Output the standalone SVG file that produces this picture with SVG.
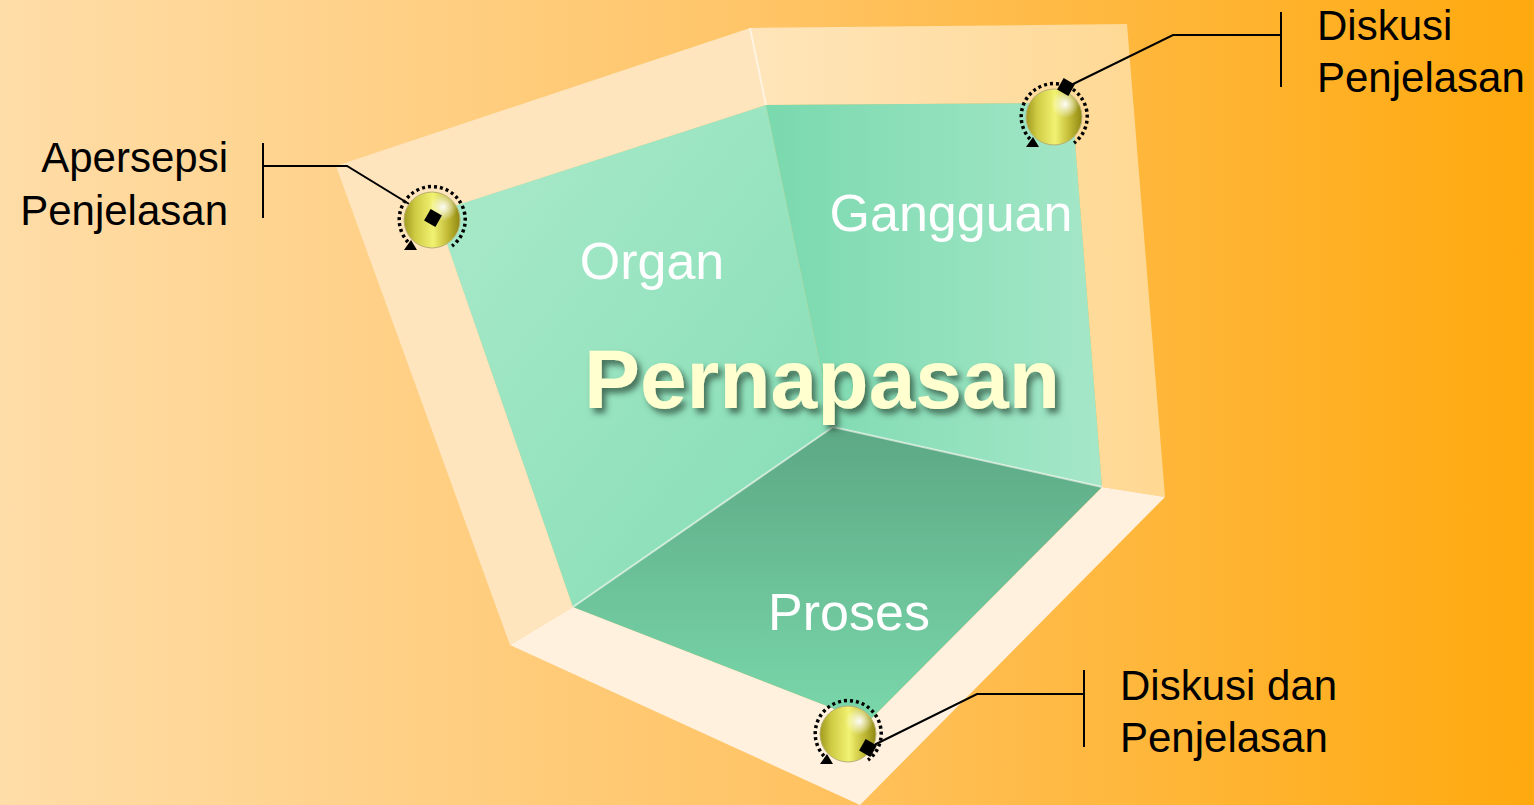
<svg xmlns="http://www.w3.org/2000/svg" width="1534" height="805" viewBox="0 0 1534 805">
  <defs>
    <linearGradient id="bg" x1="0" y1="0" x2="1" y2="0">
      <stop offset="0" stop-color="#FFDDA8"/>
      <stop offset="0.5" stop-color="#FFC466"/>
      <stop offset="1" stop-color="#FFA90E"/>
    </linearGradient>
    <linearGradient id="frameTop" x1="0" y1="0" x2="1" y2="0">
      <stop offset="0" stop-color="#FFE5BA"/>
      <stop offset="1" stop-color="#FFD892"/>
    </linearGradient>
    <linearGradient id="wallLeft" x1="0" y1="0" x2="1" y2="1">
      <stop offset="0" stop-color="#ABEACB"/>
      <stop offset="1" stop-color="#84DDB4"/>
    </linearGradient>
    <linearGradient id="wallRight" x1="0" y1="0" x2="1" y2="0">
      <stop offset="0" stop-color="#7AD9AE"/>
      <stop offset="1" stop-color="#A5E7C8"/>
    </linearGradient>
    <linearGradient id="floor" x1="0" y1="0" x2="0" y2="1">
      <stop offset="0" stop-color="#5CA884"/>
      <stop offset="1" stop-color="#7AD8AB"/>
    </linearGradient>
    <linearGradient id="ballBody" x1="0" y1="0" x2="1" y2="0">
      <stop offset="0" stop-color="#A09A1E"/>
      <stop offset="0.2" stop-color="#CFCB44"/>
      <stop offset="0.52" stop-color="#F2F272"/>
      <stop offset="0.8" stop-color="#BDB632"/>
      <stop offset="1" stop-color="#8E8812"/>
    </linearGradient>
    <radialGradient id="ballShine" cx="0.7" cy="0.27" r="0.25">
      <stop offset="0" stop-color="#FFFFFF" stop-opacity="0.95"/>
      <stop offset="1" stop-color="#FFFFFF" stop-opacity="0"/>
    </radialGradient>
    <filter id="shadow" x="-10%" y="-30%" width="120%" height="160%">
      <feGaussianBlur in="SourceAlpha" stdDeviation="3"/>
      <feOffset dx="4" dy="5" result="b"/>
      <feFlood flood-color="#2A4A38" flood-opacity="0.75"/>
      <feComposite in2="b" operator="in"/>
      <feMerge><feMergeNode/><feMergeNode in="SourceGraphic"/></feMerge>
    </filter>
    <!-- glossy marker bead with dotted rotation ring -->
    <g id="ball">
      <circle r="28" fill="url(#ballBody)" stroke="#B8B070" stroke-width="1"/>
      <circle r="28" fill="url(#ballShine)"/>
      <path d="M -24 22 A 33 33 0 1 1 20 26" fill="none" stroke="#000" stroke-width="3.5" stroke-dasharray="3 3"/>
      <path d="M -28 30 L -21 20 L -15 30 Z" fill="#000"/>
    </g>
  </defs>
  <style>
    .label { font-family: "Liberation Sans", Arial, sans-serif; font-size: 52px; fill: #FFFFFF; }
    .callout { font-family: "Liberation Sans", Arial, sans-serif; font-size: 42px; fill: #000000; }
    .title { font-family: "Liberation Sans", Arial, sans-serif; font-size: 84px; font-weight: bold; fill: #FFFFCF; }
    .lead { fill: none; stroke: #000; stroke-width: 2; }
    .seam { fill: none; stroke: #FFFFFF; stroke-opacity: 0.6; stroke-width: 2; }
  </style>

  <rect width="1534" height="805" fill="url(#bg)"/>

  <!-- frame pieces around the box -->
  <g id="frame">
    <polygon points="336,166 750,28 766,105 436,212 573,607 510,645" fill="#FFE5BD"/>
    <polygon points="750,28 1127,24 1165,497 1102,487 1072,103 766,105" fill="url(#frameTop)"/>
    <polygon points="510,645 573,607 868,722 1102,487 1165,497 860,805" fill="#FFF1DE"/>
    <line x1="750" y1="28" x2="766" y2="105" class="seam"/>
  </g>

  <!-- inner faces -->
  <g id="organ">
    <polygon points="436,212 766,105 833,427 573,607" fill="url(#wallLeft)"/>
    <text x="652" y="279" class="label" text-anchor="middle">Organ</text>
  </g>
  <g id="gangguan">
    <polygon points="766,105 1072,103 1102,487 833,427" fill="url(#wallRight)"/>
    <text x="951" y="231" class="label" text-anchor="middle">Gangguan</text>
  </g>
  <g id="proses">
    <polygon points="833,427 1102,487 868,722 573,607" fill="url(#floor)"/>
    <text x="849" y="630" class="label" text-anchor="middle">Proses</text>
  </g>
  <g id="seams">
    <line x1="833" y1="427" x2="573" y2="607" class="seam" stroke-width="1.5" stroke-opacity="0.35"/>
    <line x1="833" y1="427" x2="1102" y2="487" class="seam" stroke-width="1.5" stroke-opacity="0.6"/>
  </g>

  <g id="pernapasan">
    <text x="822" y="408" class="title" text-anchor="middle" filter="url(#shadow)">Pernapasan</text>
  </g>

  <!-- callout leaders -->
  <g id="connectors">
    <polyline class="lead" points="263,166 347,166 432,218"/>
    <line class="lead" x1="263" y1="143" x2="263" y2="218"/>
    <polyline class="lead" points="1281,35 1173,35 1065,88"/>
    <line class="lead" x1="1281" y1="12" x2="1281" y2="87"/>
    <polyline class="lead" points="1084,694 977,694 868,748"/>
    <line class="lead" x1="1084" y1="670" x2="1084" y2="747"/>
  </g>

  <g id="marker-apersepsi">
    <use href="#ball" x="432" y="220"/>
    <rect x="-6.5" y="-6.5" width="13" height="13" fill="#000" transform="translate(433,218) rotate(30)"/>
  </g>
  <g id="marker-diskusi">
    <use href="#ball" x="1054" y="117"/>
    <rect x="-6.5" y="-6.5" width="13" height="13" fill="#000" transform="translate(1066,87) rotate(30)"/>
  </g>
  <g id="marker-diskusi-dan">
    <use href="#ball" x="848" y="734"/>
    <rect x="-6.5" y="-6.5" width="13" height="13" fill="#000" transform="translate(868,748) rotate(30)"/>
  </g>

  <g id="label-apersepsi">
    <text x="228" y="172" class="callout" text-anchor="end">Apersepsi</text>
    <text x="228" y="225" class="callout" text-anchor="end">Penjelasan</text>
  </g>
  <g id="label-diskusi">
    <text x="1317" y="40" class="callout">Diskusi</text>
    <text x="1317" y="92" class="callout">Penjelasan</text>
  </g>
  <g id="label-diskusi-dan">
    <text x="1120" y="700" class="callout">Diskusi dan</text>
    <text x="1120" y="752" class="callout">Penjelasan</text>
  </g>
</svg>
